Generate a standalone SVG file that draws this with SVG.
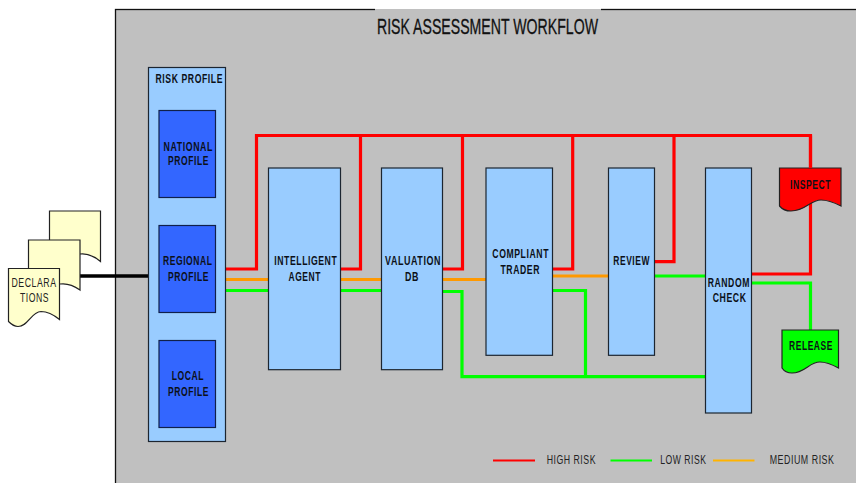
<svg xmlns="http://www.w3.org/2000/svg" width="856" height="483" viewBox="0 0 856 483">
<style>
text{font-family:"Liberation Sans",Arial,sans-serif;fill:#111;text-anchor:start}
.b{font-weight:bold;font-size:13.5px;letter-spacing:.9px;fill:#0c1018}
.r{font-size:13.5px;letter-spacing:.8px;fill:#222}
.box{fill:#99ccff;stroke:#1c2530;stroke-width:1.2}
.in{fill:#3366ff;stroke:#10204a;stroke-width:1.2}
.doc{stroke:#222;stroke-width:1.2}
.c{fill:none;stroke-width:3.2;stroke-linejoin:miter}
.hi{stroke:#ff0000}.lo{stroke:#00ff00}.me{stroke:#ff9900}
</style>
<rect id="panel" x="115.500" y="9.500" width="745" height="480" fill="#c0c0c0" stroke="#111" stroke-width="1.300"/>
<rect x="375" y="0" width="226" height="9" fill="#fff"/>
<rect x="375" y="9" width="226" height="12" fill="#c0c0c0"/>
<text x="377" y="33.500" font-size="22" stroke="#111" stroke-width=".3" textLength="221" lengthAdjust="spacingAndGlyphs">RISK ASSESSMENT WORKFLOW</text>

<g id="connectors">
<path class="c lo" d="M751 283H810.500V330"/>
<path class="c hi" d="M751 274H810.500V135.500H256.500V269H224"/>
<path class="c hi" d="M340 269H360.500V135.500"/>
<path class="c hi" d="M442 269H462.500V135.500"/>
<path class="c hi" d="M552 269H572.700V135.500"/>
<path class="c hi" d="M654 261.700H674V135.500"/>
<path class="c me" d="M225 279.500H268"/>
<path class="c me" d="M339 279.500H381"/>
<path class="c me" d="M442 279.500H486"/>
<path class="c me" d="M552 276H608"/>
<path class="c lo" d="M225 290.500H268"/>
<path class="c lo" d="M340 290.500H381"/>
<path class="c lo" d="M442 291.500H462V376.700H706"/>
<path class="c lo" d="M552 290.500H585.500V376.700"/>
<path class="c lo" d="M654 276H706"/>
<path d="M80 276H149" fill="none" stroke="#000" stroke-width="3.500"/>
</g>

<g id="decl-back"><path class="doc" fill="#ffffcc" d="M49.500 211H100.500V261.500C94 256 88 253 80 254C72 255 66 262 49.500 262Z"/></g>
<g id="decl-mid"><path class="doc" fill="#ffffcc" d="M28.500 240H80V290C73 285 67 283 60 284C52 285 46 291 28.500 291Z"/></g>
<g id="declarations"><path class="doc" fill="#ffffcc" d="M8.500 268.500H59.500V319.500C54 315 48 311.500 41 311.500C31 312 28 326.500 18 326.500C14 326.500 11 324 8.500 321.500Z"/>
<text x="11.500" y="287" class="r" textLength="45" lengthAdjust="spacingAndGlyphs">DECLARA</text>
<text x="20" y="302" class="r" textLength="29" lengthAdjust="spacingAndGlyphs">TIONS</text></g>

<g id="risk-profile"><rect class="box" x="148.500" y="67.500" width="77" height="374"/>
<text x="155.500" y="83" class="b" textLength="67.500" lengthAdjust="spacingAndGlyphs">RISK PROFILE</text></g>
<g id="national-profile"><rect class="in" x="159" y="110.500" width="56.500" height="87"/>
<text x="163.500" y="151" class="b" textLength="49.500" lengthAdjust="spacingAndGlyphs">NATIONAL</text>
<text x="168" y="165" class="b" textLength="41" lengthAdjust="spacingAndGlyphs">PROFILE</text></g>
<g id="regional-profile"><rect class="in" x="159" y="225.500" width="56.500" height="87"/>
<text x="163" y="265" class="b" textLength="49.500" lengthAdjust="spacingAndGlyphs">REGIONAL</text>
<text x="168" y="281" class="b" textLength="41" lengthAdjust="spacingAndGlyphs">PROFILE</text></g>
<g id="local-profile"><rect class="in" x="159" y="340.500" width="56.500" height="87"/>
<text x="171.700" y="380" class="b" textLength="32.500" lengthAdjust="spacingAndGlyphs">LOCAL</text>
<text x="168" y="396" class="b" textLength="41" lengthAdjust="spacingAndGlyphs">PROFILE</text></g>

<g id="intelligent-agent"><rect class="box" x="268.500" y="168" width="72" height="201.700"/>
<text x="274.300" y="265" class="b" textLength="63" lengthAdjust="spacingAndGlyphs">INTELLIGENT</text>
<text x="288.500" y="281" class="b" textLength="32.500" lengthAdjust="spacingAndGlyphs">AGENT</text></g>
<g id="valuation-db"><rect class="box" x="381.500" y="168" width="61" height="201.700"/>
<text x="385" y="265" class="b" textLength="56" lengthAdjust="spacingAndGlyphs">VALUATION</text>
<text x="405" y="281" class="b" textLength="14" lengthAdjust="spacingAndGlyphs">DB</text></g>
<g id="compliant-trader"><rect class="box" x="486" y="168" width="66.500" height="187.300"/>
<text x="492.300" y="258" class="b" textLength="56.700" lengthAdjust="spacingAndGlyphs">COMPLIANT</text>
<text x="500.500" y="274" class="b" textLength="39.500" lengthAdjust="spacingAndGlyphs">TRADER</text></g>
<g id="review"><rect class="box" x="608.500" y="168" width="46" height="187.300"/>
<text x="613.300" y="265" class="b" textLength="36.700" lengthAdjust="spacingAndGlyphs">REVIEW</text></g>
<g id="random-check"><rect class="box" x="705.500" y="168" width="46" height="245"/>
<text x="707.700" y="287" class="b" textLength="42.300" lengthAdjust="spacingAndGlyphs">RANDOM</text>
<text x="712.700" y="302" class="b" textLength="33.800" lengthAdjust="spacingAndGlyphs">CHECK</text></g>

<g id="inspect"><path class="doc" fill="#ff0000" d="M779.500 168H841V206C835 203 829 200 821 200C810 200 806 211 791 211C786 211 782 209 779.500 206Z"/>
<text x="790" y="189" class="b" textLength="41" lengthAdjust="spacingAndGlyphs">INSPECT</text></g>
<g id="release"><path class="doc" fill="#00ff00" d="M782 330H838.500V368C833 365 827 362 820 362C809 362 805 373 792 373C788 373 784 371 782 368Z"/>
<text class="b" transform="translate(789 350) scale(.628 1)">RELEASE</text></g>

<path class="c hi" d="M810.500 135.500V168"/>

<g id="legend">
<path d="M493 460.500H535" fill="none" stroke="#ff0000" stroke-width="2"/>
<path d="M610.500 460.500H652" fill="none" stroke="#00ff00" stroke-width="2"/>
<path d="M713 460.500H754.500" fill="none" stroke="#ffb300" stroke-width="2"/>
<text x="546.700" y="464" class="r" textLength="49.300" lengthAdjust="spacingAndGlyphs">HIGH RISK</text>
<text x="660.300" y="464" class="r" textLength="46.200" lengthAdjust="spacingAndGlyphs">LOW RISK</text>
<text class="r" transform="translate(769.700 464) scale(.656 1)">MEDIUM RISK</text>
</g>
</svg>
